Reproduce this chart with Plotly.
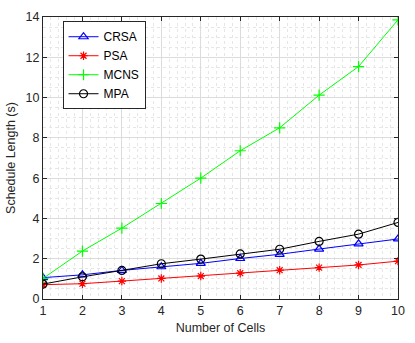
import plotly.graph_objects as go

cells = [1, 2, 3, 4, 5, 6, 7, 8, 9, 10]
crsa = [1.06, 1.2, 1.42, 1.6, 1.77, 2.01, 2.22, 2.48, 2.74, 2.98]
psa = [0.71, 0.76, 0.89, 1.02, 1.14, 1.28, 1.43, 1.56, 1.69, 1.88]
mcns = [1.02, 2.38, 3.52, 4.74, 6.0, 7.36, 8.5, 10.12, 11.54, 13.86]
mpa = [0.74, 1.1, 1.42, 1.75, 1.98, 2.24, 2.47, 2.86, 3.22, 3.8]

series = [
    ("CRSA", crsa, "#0000ff", "triangle-up-open", 8),
    ("PSA", psa, "#ff0000", "asterisk-open", 7),
    ("MCNS", mcns, "#00ff00", "cross-thin-open", 8),
    ("MPA", mpa, "#000000", "circle-open", 8),
]

fig = go.Figure()
for name, vals, color, symbol, size in series:
    fig.add_trace(go.Scatter(
        x=cells, y=vals, name=name, mode="lines+markers",
        line=dict(color=color, width=1),
        marker=dict(symbol=symbol, size=size, color=color,
                    line=dict(color=color, width=1.2)),
    ))

axis_common = dict(
    showline=True, linecolor="#262626", linewidth=1, mirror="ticks",
    ticks="inside", ticklen=4, tickcolor="#262626",
    showgrid=True, gridcolor="#dcdcdc", gridwidth=1,
    zeroline=False,
    tickfont=dict(size=12.5, color="#262626"),
)

fig.update_xaxes(
    range=[1, 10], dtick=1,
    title=dict(text="Number of Cells", font=dict(size=12.5, color="#262626"), standoff=6),
    minor=dict(dtick=0.2, showgrid=True, gridcolor="#e6e6e6", griddash="dot", ticks=""),
    **axis_common,
)
fig.update_yaxes(
    range=[0, 14], dtick=2,
    title=dict(text="Schedule Length (s)", font=dict(size=12.5, color="#262626"), standoff=7),
    minor=dict(dtick=0.5, showgrid=True, gridcolor="#e6e6e6", griddash="dot", ticks=""),
    **axis_common,
)

fig.update_layout(
    width=415, height=343,
    margin=dict(l=40, r=10, t=12, b=43),
    paper_bgcolor="white", plot_bgcolor="white",
    font=dict(family="Liberation Sans, Arial, sans-serif", size=12, color="#262626"),
    legend=dict(
        x=0.055, y=0.985, xanchor="left", yanchor="top",
        bgcolor="white", bordercolor="#262626", borderwidth=1,
        font=dict(size=12, color="#000000"),
        tracegroupgap=0, itemwidth=30,
    ),
)

fig.write_html("out.html", config={"displayModeBar": False},
               post_script="document.body.style.margin='0';")
